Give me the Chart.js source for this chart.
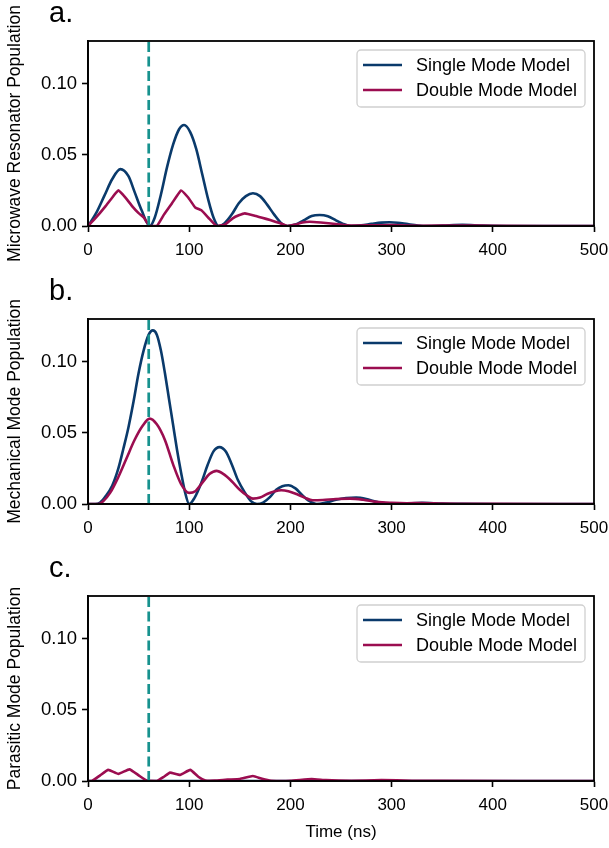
<!DOCTYPE html>
<html>
<head>
<meta charset="utf-8">
<script src="https://cdn.jsdelivr.net/npm/chart.js@4.4.1/dist/chart.umd.min.js"></script>
<style>
  html, body { margin: 0; padding: 0; background: #fff; }
  body { width: 609px; height: 848px; position: relative; overflow: hidden; }
  canvas { position: absolute; left: 0; }
</style>
</head>
<body>
<canvas id="panelA" width="609" height="266" style="top:0px"></canvas>
<canvas id="panelB" width="609" height="274" style="top:270px"></canvas>
<canvas id="panelC" width="609" height="293" style="top:555px"></canvas>
<script>
// ---- time axis (ns) and populations ----
const seriesNames = ['Single Mode Model', 'Double Mode Model'];
const xTickValues = [0, 100, 200, 300, 400, 500];
const yTickValues = [0, 0.05, 0.10];
const yMax = 0.13;
const markerTime = 60;

// (a) microwave resonator
const tSingleA = [0, 8, 16, 24, 32, 40, 46, 53, 61, 66, 72, 78, 84, 90, 95, 101, 107, 113, 119, 124, 129,
  135, 142, 149, 156, 163, 170, 177, 184, 191, 197, 205, 213, 221, 229, 237, 245, 252, 260,
  270, 280, 290, 298, 306, 316, 326, 335, 350, 370, 390, 420, 500];
const singleA = [0, 0.009, 0.021, 0.033, 0.040, 0.035, 0.024, 0.011, 0, 0.006, 0.022, 0.041, 0.057, 0.068, 0.071, 0.066, 0.054, 0.036, 0.018, 0.006, 0,
  0.002, 0.008, 0.016, 0.021, 0.023, 0.021, 0.015, 0.008, 0.002, 0, 0.001, 0.004, 0.007, 0.0077, 0.0068, 0.004, 0.0015, 0,
  0.0005, 0.0015, 0.0024, 0.0026, 0.0023, 0.0013, 0.0004, 0, 0.0003, 0.0008, 0.0003, 0, 0];
const tDoubleA = [0, 8, 17, 24, 30, 37, 44, 50, 55, 61, 68, 75, 83, 92, 99, 106, 112, 120, 127,
  135, 143, 149, 155, 166, 172, 180, 190, 197, 205, 212, 219, 230, 240, 249, 260, 280, 300, 330, 370, 400, 500];
const doubleA = [0, 0.006, 0.0136, 0.020, 0.025, 0.020, 0.0136, 0.009, 0.006, 0, 0, 0.008, 0.016, 0.025, 0.020, 0.013, 0.011, 0.005, 0,
  0.001, 0.0054, 0.0075, 0.0089, 0.007, 0.0058, 0.0042, 0.0019, 0, 0.001, 0.0025, 0.003, 0.0025, 0.0018, 0.001, 0.0003, 0.0005, 0.0006, 0.0002, 0.0004, 0.0001, 0];

// (b) mechanical mode
const tSingleB = [0, 7, 12, 17, 24, 30, 35, 40, 45, 50, 55, 60, 64, 68, 72, 76, 80, 84, 88, 92, 96, 100,
  105, 112, 118, 124, 130, 136, 142, 148, 155, 161, 167, 173, 180, 186, 192, 198, 205, 212, 219, 226,
  235, 245, 255, 265, 275, 285, 296, 310, 330, 350, 370, 400, 500];
const singleB = [0, 0, 0.001, 0.005, 0.013, 0.025, 0.039, 0.054, 0.072, 0.092, 0.108, 0.119, 0.122, 0.119, 0.108, 0.092, 0.074, 0.056, 0.038, 0.022, 0.008, 0,
  0.004, 0.015, 0.027, 0.037, 0.040, 0.037, 0.028, 0.017, 0.008, 0.002, 0, 0.001, 0.005, 0.010, 0.0125, 0.0132, 0.011, 0.006, 0.002, 0,
  0.001, 0.003, 0.0042, 0.0045, 0.0035, 0.0015, 0.0003, 0.0003, 0.0008, 0.0003, 0.0001, 0, 0];
const tDoubleB = [0, 10, 15, 22, 30, 38, 46, 54, 61, 68, 76, 84, 92, 100, 106, 113, 120, 127, 134, 142,
  150, 157, 163, 170, 177, 184, 191, 198, 206, 214, 222, 232, 245, 259, 272, 285, 300, 315, 330, 350, 400, 500];
const doubleB = [0, 0, 0.002, 0.008, 0.019, 0.032, 0.045, 0.055, 0.060, 0.056, 0.045, 0.028, 0.014, 0.0078, 0.009, 0.015, 0.021, 0.0233, 0.021, 0.016,
  0.010, 0.006, 0.0038, 0.0045, 0.007, 0.0088, 0.0097, 0.009, 0.007, 0.0045, 0.0026, 0.0028, 0.0035, 0.0038, 0.003, 0.0015, 0.0008, 0.0005, 0.0007, 0.0003, 0.0001, 0];

// (c) parasitic mode
const tSingleC = [0, 100, 200, 300, 400, 500];
const singleC = [0, 0, 0, 0, 0, 0];
const tDoubleC = [0, 4, 12, 20, 30, 41, 50, 58, 68, 75, 81, 91, 101, 109, 116, 125, 138, 150, 163, 172,
  181, 200, 221, 235, 260, 290, 320, 350, 500];
const doubleC = [0, 0, 0.004, 0.0078, 0.005, 0.0082, 0.004, 0.0003, 0, 0.003, 0.0059, 0.0043, 0.0078, 0.003, 0.0004, 0.0003, 0.001, 0.0014, 0.0035, 0.0015,
  0.0002, 0.0001, 0.0014, 0.0006, 0.0002, 0.0006, 0.0002, 0.0001, 0];

// ---- styling ----
const FONT = '"Liberation Sans", Arial, Helvetica, sans-serif';
const BLUE = '#0a3a6b';
const RED = '#9b0d50';
const TEAL = '#17928e';

const pts = (ts, vs) => ts.map((t, i) => ({ x: t, y: vs[i] }));

// closed box around the plotting area
const framePlugin = {
  id: 'frame',
  afterDatasetsDraw(chart) {
    const { ctx, chartArea: a } = chart;
    ctx.save();
    ctx.strokeStyle = '#000';
    ctx.lineWidth = 1.8;
    ctx.strokeRect(a.left, a.top, a.right - a.left, a.bottom - a.top);
    ctx.restore();
  }
};

// legend box in the upper-right corner of the plotting area
const insetLegend = {
  id: 'insetLegend',
  afterDraw(chart) {
    const { ctx, chartArea: a } = chart;
    const items = chart.data.datasets.filter(d => !d.noLegend);
    const w = 228, h = 57;
    const x0 = a.right - 9 - w, y0 = a.top + 9;
    ctx.save();
    ctx.beginPath();
    ctx.roundRect(x0, y0, w, h, 4);
    ctx.fillStyle = 'rgba(255,255,255,0.8)';
    ctx.fill();
    ctx.strokeStyle = '#d0d0d0';
    ctx.lineWidth = 1.3;
    ctx.stroke();
    ctx.font = '18px ' + FONT;
    ctx.textBaseline = 'middle';
    ctx.fillStyle = '#000';
    items.forEach((d, i) => {
      const yy = y0 + 15 + i * 25;
      ctx.beginPath();
      ctx.moveTo(x0 + 6, yy);
      ctx.lineTo(x0 + 45, yy);
      ctx.strokeStyle = d.borderColor;
      ctx.lineWidth = 2.5;
      ctx.stroke();
      ctx.fillText(d.label, x0 + 59, yy + 1);
    });
    ctx.restore();
  }
};

// panel letter above the plotting area
const panelLetter = {
  id: 'panelLetter',
  afterDraw(chart, args, opts) {
    const { ctx, chartArea: a } = chart;
    ctx.save();
    ctx.font = '29px ' + FONT;
    ctx.fillStyle = '#000';
    ctx.textBaseline = 'alphabetic';
    ctx.fillText(opts.text, 49, a.top - 19);
    ctx.restore();
  }
};

function makePanel(id, letter, yTitle, tS, vS, tD, vD, topPad, xHeight, showXTitle, smoothDouble) {
  return new Chart(document.getElementById(id), {
    type: 'line',
    data: {
      datasets: [
        { label: seriesNames[0], data: pts(tS, vS), borderColor: BLUE, borderWidth: 2.6,
          pointRadius: 0, cubicInterpolationMode: 'monotone', order: 1 },
        { label: seriesNames[1], data: pts(tD, vD), borderColor: RED, borderWidth: 2.6,
          pointRadius: 0, order: 0,
          cubicInterpolationMode: smoothDouble ? 'monotone' : 'default', tension: smoothDouble ? 0.4 : 0.12 },
        { label: 'pulse end', noLegend: true, data: [{ x: markerTime, y: 0 }, { x: markerTime, y: yMax }],
          borderColor: TEAL, borderWidth: 2.7, borderDash: [10, 4.5], pointRadius: 0, order: -1 }
      ]
    },
    options: {
      responsive: false,
      devicePixelRatio: 1,
      animation: false,
      layout: { padding: { left: 0, right: 15, top: topPad, bottom: 0 } },
      plugins: {
        legend: { display: false },
        tooltip: { enabled: false },
        panelLetter: { text: letter }
      },
      scales: {
        x: {
          type: 'linear', min: 0, max: 500,
          afterBuildTicks: s => { s.ticks = xTickValues.map(v => ({ value: v })); },
          ticks: { font: { family: FONT, size: 17 }, color: '#000', padding: 8, maxRotation: 0 },
          grid: { drawOnChartArea: false, drawTicks: true, tickLength: 6, tickColor: '#000', tickWidth: 1.6 },
          border: { display: true, color: '#000', width: 1.8 },
          title: { display: showXTitle, text: 'Time (ns)', font: { family: FONT, size: 17 }, color: '#000',
                   padding: { top: 0, bottom: 5 } },
          afterFit: s => { s.height = xHeight; s.paddingLeft = 0; s.paddingRight = 0; }
        },
        y: {
          type: 'linear', min: 0, max: yMax,
          afterBuildTicks: s => { s.ticks = yTickValues.map(v => ({ value: v })); },
          ticks: { font: { family: FONT, size: 18.5 }, color: '#000', padding: 5, callback: v => v.toFixed(2) },
          grid: { drawOnChartArea: false, drawTicks: true, tickLength: 6, tickColor: '#000', tickWidth: 1.6 },
          border: { display: true, color: '#000', width: 1.8 },
          title: { display: true, text: yTitle, font: { family: FONT, size: 17.5 }, color: '#000',
                   padding: { top: 5, bottom: 0 } },
          afterFit: s => { s.width = 88; s.paddingTop = 0; s.paddingBottom = 0; }
        }
      }
    },
    plugins: [framePlugin, insetLegend, panelLetter]
  });
}

makePanel('panelA', 'a.', 'Microwave Resonator Population', tSingleA, singleA, tDoubleA, doubleA, 41, 40, false, false);
makePanel('panelB', 'b.', 'Mechanical Mode Population', tSingleB, singleB, tDoubleB, doubleB, 49, 40, false, true);
makePanel('panelC', 'c.', 'Parasitic Mode Population', tSingleC, singleC, tDoubleC, doubleC, 41, 67, true, false);
</script>
</body>
</html>
